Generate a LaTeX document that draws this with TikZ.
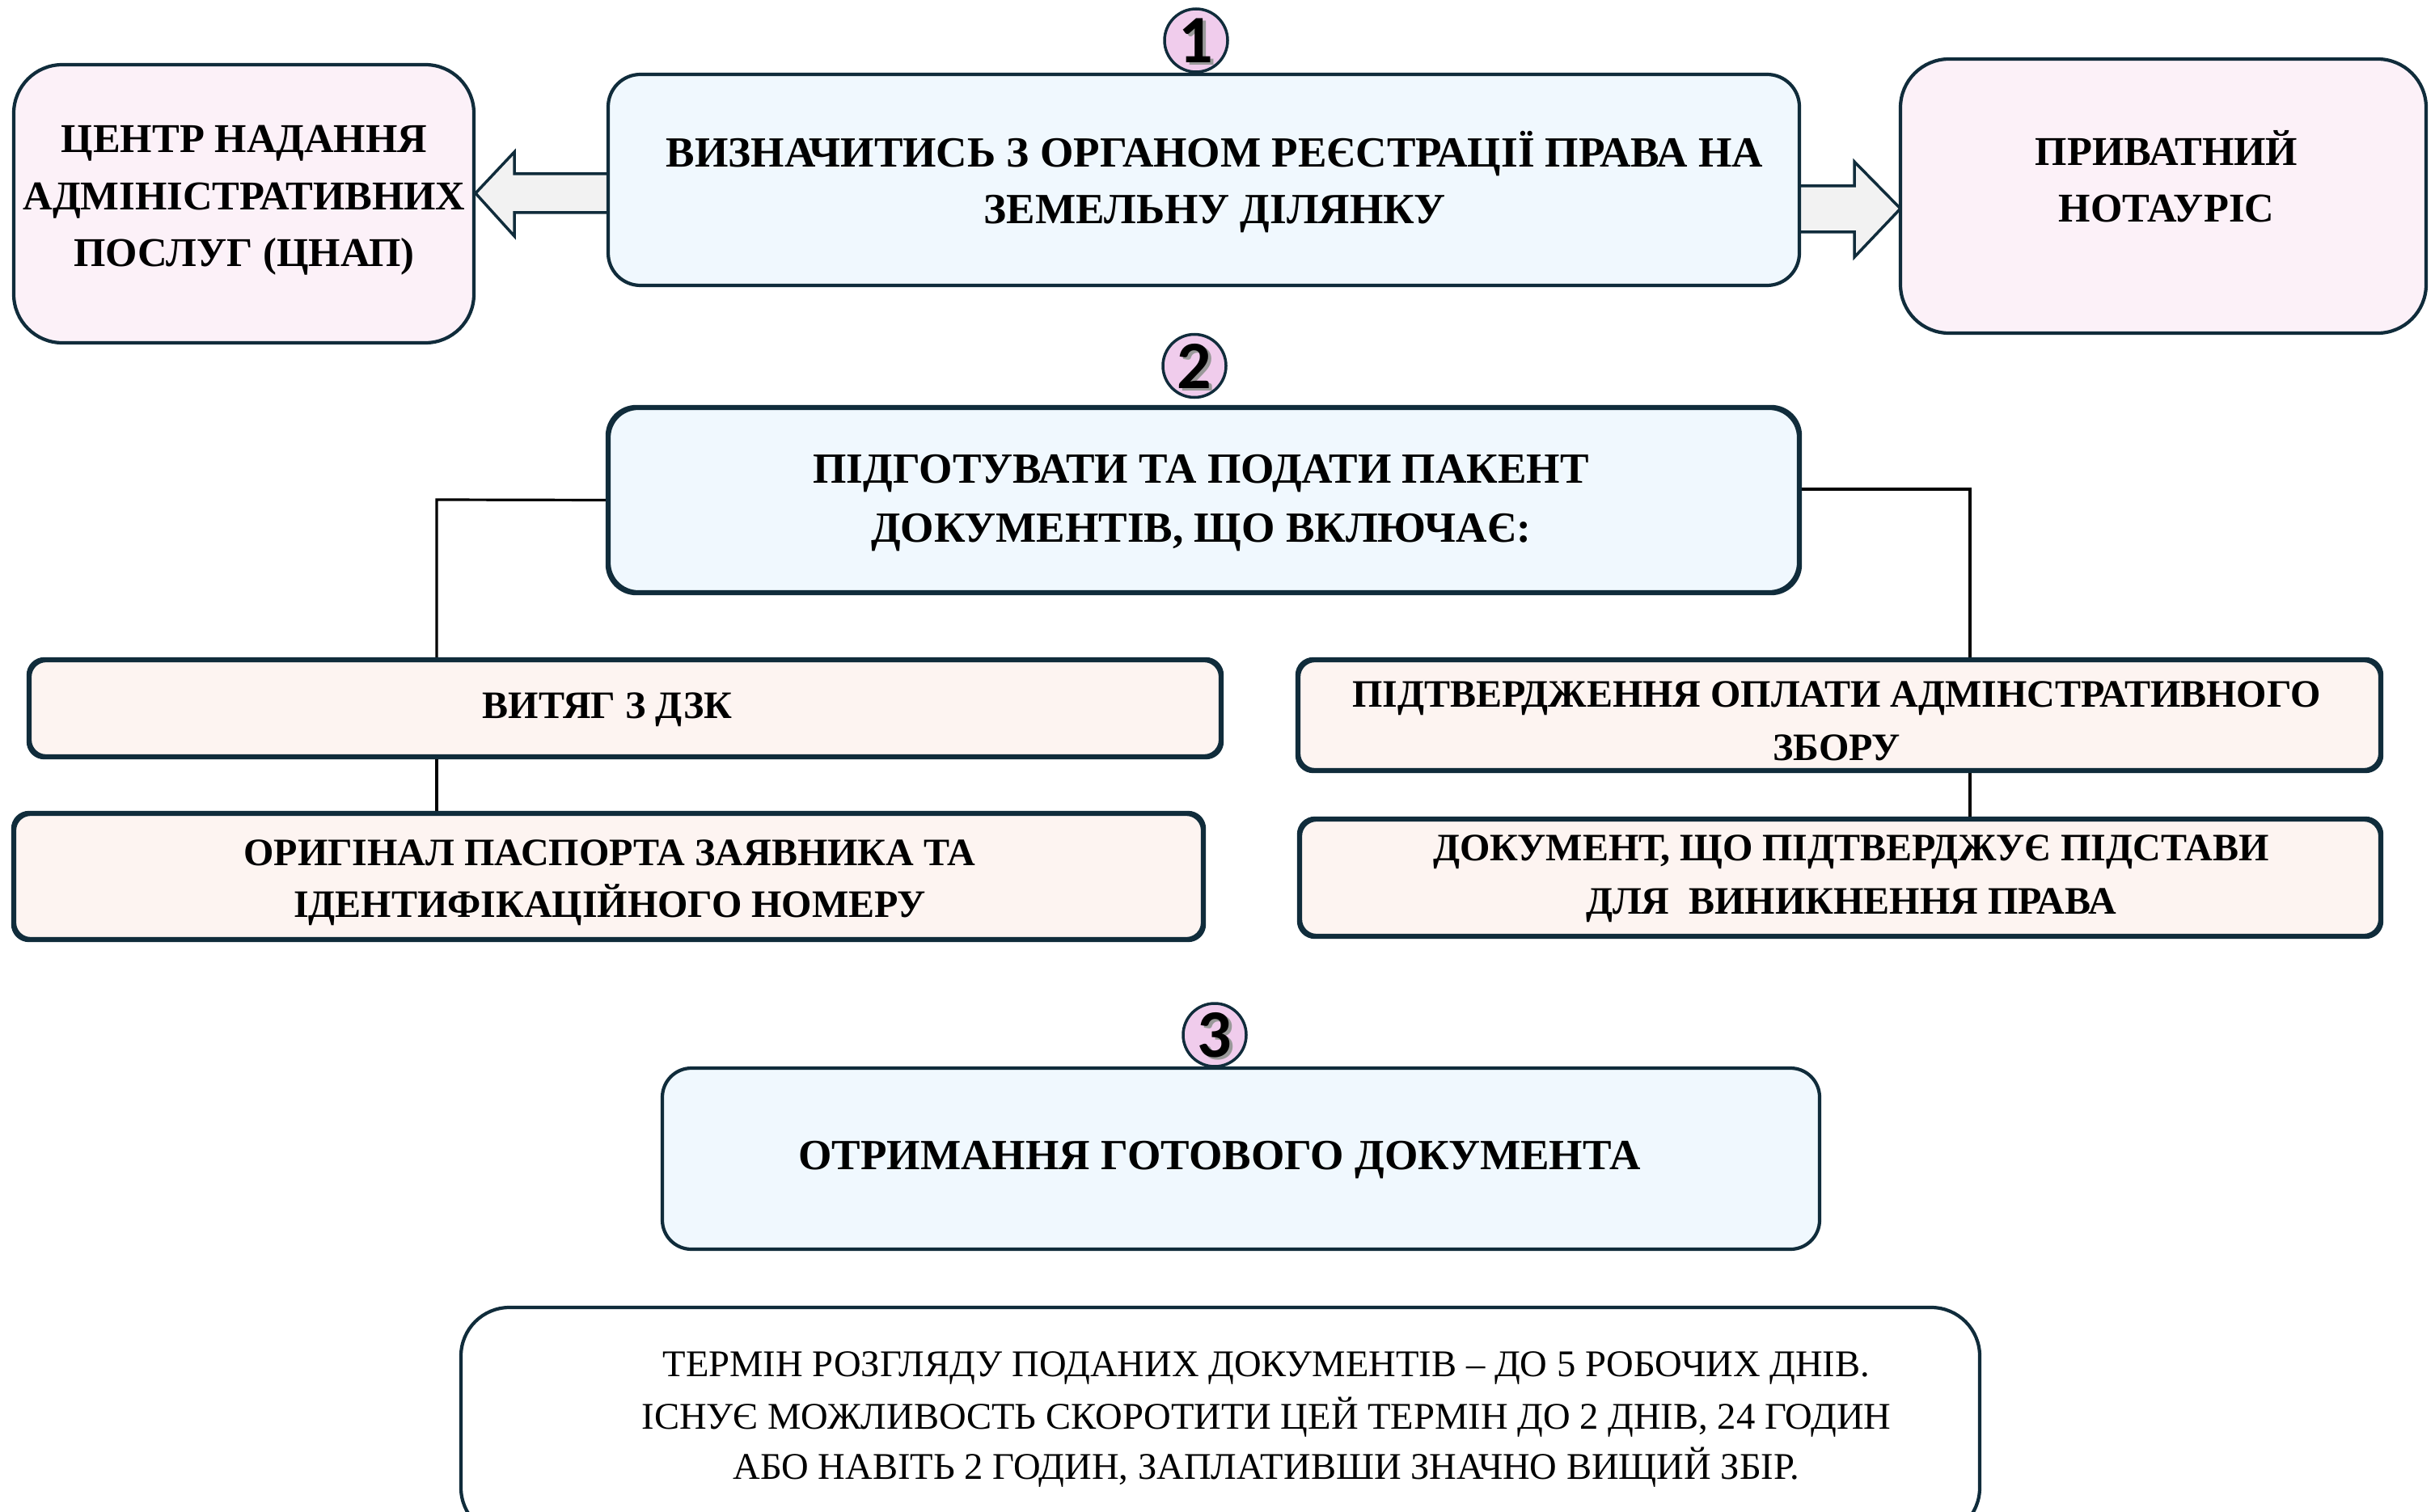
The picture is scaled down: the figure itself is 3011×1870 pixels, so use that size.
\documentclass[tikz,border=0pt]{standalone}
\usepackage{fontspec}
\setmainfont{Liberation Serif}
\newfontfamily\digitfont{Carlito}
\usetikzlibrary{calc}
\definecolor{bord}{HTML}{102C3B}
\definecolor{bluebox}{HTML}{F0F8FE}
\definecolor{pinkbox}{HTML}{FCF1F8}
\definecolor{docbox}{HTML}{FDF4F1}
\definecolor{circfill}{HTML}{F0CCEC}
\definecolor{arrfill}{HTML}{F2F2F2}
\tikzset{
  box/.style={draw=bord, line width=4.2pt, rounded corners=#1, inner sep=0pt},
  box/.default=40pt,
  conn/.style={draw=black, line width=3.2pt},
  arr/.style={draw=bord, fill=arrfill, line width=3.5pt, line join=miter},
  circ/.style={circle, draw=bord, fill=circfill, line width=3.5pt, minimum size=78pt, inner sep=0pt},
  dig/.style={font=\digitfont\bfseries\fontsize{84}{84}\selectfont, inner sep=0pt},
  lmain/.style={anchor=base, inner sep=0pt, font=\bfseries\fontsize{53.2}{53}\selectfont},
  lside/.style={anchor=base, inner sep=0pt, font=\bfseries\fontsize{50.6}{50}\selectfont},
  ldoc/.style={anchor=base, inner sep=0pt, font=\bfseries\fontsize{48}{48}\selectfont},
  lnote/.style={anchor=base, inner sep=0pt, font=\fontsize{46.6}{46}\selectfont},
}
\begin{document}
\begin{tikzpicture}[x=1pt,y=-1pt]
\clip (0,0) rectangle (3011,1870);
\fill[white] (0,0) rectangle (3011,1870);

% block arrows
\draw[arr] (752,215) -- (636,215) -- (636,188) -- (588,239) -- (636,292) -- (636,263) -- (752,263);
\draw[arr] (2225,230) -- (2293,230) -- (2293,200) -- (2350,258) -- (2293,318) -- (2293,287) -- (2225,287);

% connector anchors
\coordinate (cl) at (540,618);
\coordinate (cr) at (2436,605);

% boxes
\node[box=60pt, fill=pinkbox, minimum width=569pt, minimum height=344pt] (c1) at (301.5,252) {};
\node[box=40pt, fill=bluebox, minimum width=1473pt, minimum height=261pt] (b1) at (1488.5,222.5) {};
\node[box=60pt, fill=pinkbox, minimum width=650pt, minimum height=339pt] (n1) at (2675,242.5) {};
\node[box=36pt, fill=bluebox, minimum width=1471pt, minimum height=227pt] (b2) at (1488.5,618.5) {};
\node[box=20pt, fill=docbox, minimum width=1472pt, minimum height=118pt] (d1) at (773,876) {};
\node[box=20pt, fill=docbox, minimum width=1469pt, minimum height=154pt] (d2) at (752.5,1084) {};
\node[box=20pt, fill=docbox, minimum width=1337pt, minimum height=135pt] (d3) at (2274.5,884.5) {};
\node[box=20pt, fill=docbox, minimum width=1335pt, minimum height=143pt] (d4) at (2275.5,1085.5) {};
\node[box=36pt, fill=bluebox, minimum width=1431pt, minimum height=224pt] (b3) at (1534.5,1433) {};
\node[box=60pt, fill=white, minimum width=1878pt, minimum height=283pt] (nt) at (1509,1758.5) {};

% connectors
\draw[conn] (b2.west) -- (cl) -- (cl |- d1.north);
\draw[conn] (cl |- d1.south) -- (cl |- d2.north);
\draw[conn] (b2.east |- cr) -- (cr) -- (cr |- d3.north);
\draw[conn] (cr |- d3.south) -- (cr |- d4.north);

% redraw box borders over connectors
\foreach \n/\r in {b2/36pt,d1/20pt,d2/20pt,d3/20pt,d4/20pt}{
  \draw[draw=bord, line width=4.2pt, rounded corners=\r] (\n.north west) rectangle (\n.south east);
}

% number circles
\node[circ] (k1) at (1479,50) {};
\node[dig, text=black!40] (k1s) at (1482.5,53.5) {1};
\node[dig] (k1t) at (1479,50) {1};
\node[circ] (k2) at (1477,452.5) {};
\node[dig, text=black!40] (k2s) at (1480.5,456) {2};
\node[dig] (k2t) at (1477,452.5) {2};
\node[circ] (k3) at (1502,1280) {};
\node[dig, text=black!40] (k3s) at (1505.5,1283.5) {3};
\node[dig] (k3t) at (1502,1280) {3};

% texts
\node[lside] (c1a) at (302,189) {ЦЕНТР НАДАННЯ};
\node[lside] (c1b) at (302,260) {АДМІНІСТРАТИВНИХ};
\node[lside] (c1c) at (302,330) {ПОСЛУГ (ЦНАП)};

\node[lmain] (b1a) at (1502,207) {ВИЗНАЧИТИСЬ З ОРГАНОМ РЕЄСТРАЦІЇ ПРАВА НА};
\node[lmain] (b1b) at (1502,277) {ЗЕМЕЛЬНУ ДІЛЯНКУ};

\node[lside] (n1a) at (2679,205) {ПРИВАТНИЙ};
\node[lside] (n1b) at (2679,275) {НОТАУРІС};

\node[lmain] (b2a) at (1485,597) {ПІДГОТУВАТИ ТА ПОДАТИ ПАКЕНТ};
\node[lmain] (b2b) at (1485,670) {ДОКУМЕНТІВ, ЩО ВКЛЮЧАЄ:};

\node[ldoc] (d1a) at (751,888) {ВИТЯГ З ДЗК};
\node[ldoc] (d2a) at (754,1070) {ОРИГІНАЛ ПАСПОРТА ЗАЯВНИКА ТА};
\node[ldoc] (d2b) at (754,1134) {ІДЕНТИФІКАЦІЙНОГО НОМЕРУ};
\node[ldoc] (d3a) at (2271,874) {ПІДТВЕРДЖЕННЯ ОПЛАТИ АДМІНСТРАТИВНОГО};
\node[ldoc] (d3b) at (2271,940) {ЗБОРУ};
\node[ldoc] (d4a) at (2289,1064) {ДОКУМЕНТ, ЩО ПІДТВЕРДЖУЄ ПІДСТАВИ};
\node[ldoc] (d4b) at (2289,1130) {ДЛЯ\ \ ВИНИКНЕННЯ ПРАВА};

\node[lmain] (b3a) at (1508,1446) {ОТРИМАННЯ ГОТОВОГО ДОКУМЕНТА};

\node[lnote] (nta) at (1566,1702) {ТЕРМІН РОЗГЛЯДУ ПОДАНИХ ДОКУМЕНТІВ – ДО 5 РОБОЧИХ ДНІВ.};
\node[lnote] (ntb) at (1566,1767) {ІСНУЄ МОЖЛИВОСТЬ СКОРОТИТИ ЦЕЙ ТЕРМІН ДО 2 ДНІВ, 24 ГОДИН};
\node[lnote] (ntc) at (1566,1829) {АБО НАВІТЬ 2 ГОДИН, ЗАПЛАТИВШИ ЗНАЧНО ВИЩИЙ ЗБІР.};
\end{tikzpicture}
\end{document}
